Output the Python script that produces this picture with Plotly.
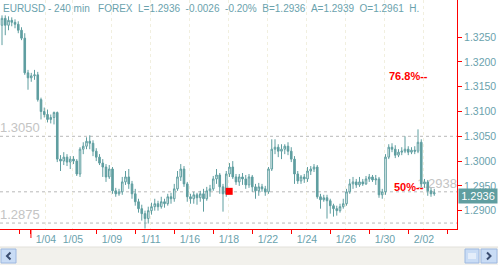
import plotly.graph_objects as go

# ---------------- data ----------------
opens = [1.3274, 1.3288, 1.3274, 1.3284, 1.3280, 1.3276, 1.3264, 1.3248, 1.3178, 1.3168,
         1.3172, 1.3174, 1.3124, 1.3100, 1.3094, 1.3084, 1.3088, 1.3098, 1.3004, 1.3000,
         1.3008, 1.2998, 1.3004, 1.3000, 1.2974, 1.3024, 1.3030, 1.3040, 1.3036, 1.3020,
         1.3008, 1.2996, 1.2988, 1.2968, 1.2984, 1.2940, 1.2934, 1.2938, 1.2958, 1.2968,
         1.2954, 1.2934, 1.2918, 1.2904, 1.2894, 1.2884, 1.2900, 1.2908, 1.2914, 1.2908,
         1.2918, 1.2914, 1.2928, 1.2924, 1.2944, 1.2968, 1.2984, 1.2954, 1.2928, 1.2924,
         1.2932, 1.2926, 1.2934, 1.2924, 1.2940, 1.2944, 1.2964, 1.2972, 1.2948, 1.2934,
         1.2974, 1.2988, 1.2968, 1.2958, 1.2968, 1.2964, 1.2952, 1.2968, 1.2948, 1.2940,
         1.2948, 1.2944, 1.2938, 1.2984, 1.3024, 1.3028, 1.3020, 1.3024, 1.3030, 1.3020,
         1.3004, 1.2974, 1.2960, 1.2968, 1.2964, 1.2980, 1.2984, 1.2988, 1.2928, 1.2922,
         1.2926, 1.2920, 1.2910, 1.2904, 1.2900, 1.2908, 1.2914, 1.2938, 1.2954, 1.2958,
         1.2952, 1.2958, 1.2954, 1.2964, 1.2968, 1.2962, 1.2964, 1.2932, 1.2938, 1.3008,
         1.3028, 1.3024, 1.3012, 1.3018, 1.3020, 1.3024, 1.3018, 1.3022, 1.3020, 1.3038,
         1.2954, 1.2958, 1.2940, 1.2934]
highs = [1.3294, 1.3294, 1.3292, 1.3290, 1.3286, 1.3282, 1.3270, 1.3258, 1.3184, 1.3178,
         1.3184, 1.3180, 1.3128, 1.3108, 1.3104, 1.3094, 1.3100, 1.3100, 1.3012, 1.3018,
         1.3014, 1.3010, 1.3010, 1.3004, 1.3028, 1.3038, 1.3048, 1.3052, 1.3042, 1.3026,
         1.3014, 1.3004, 1.2994, 1.2992, 1.2988, 1.2946, 1.2944, 1.2968, 1.2980, 1.2984,
         1.2960, 1.2944, 1.2924, 1.2912, 1.2900, 1.2908, 1.2916, 1.2924, 1.2920, 1.2928,
         1.2924, 1.2934, 1.2936, 1.2954, 1.2980, 1.2994, 1.2990, 1.2958, 1.2934, 1.2938,
         1.2936, 1.2940, 1.2944, 1.2948, 1.2952, 1.2970, 1.2984, 1.2976, 1.2954, 1.2980,
         1.2996, 1.3000, 1.2974, 1.2974, 1.2976, 1.2972, 1.2974, 1.2972, 1.2954, 1.2956,
         1.2954, 1.2950, 1.2988, 1.3044, 1.3044, 1.3034, 1.3034, 1.3034, 1.3038, 1.3028,
         1.3010, 1.2980, 1.2972, 1.2974, 1.2988, 1.2990, 1.2994, 1.2992, 1.2934, 1.2932,
         1.2932, 1.2924, 1.2914, 1.2910, 1.2914, 1.2924, 1.2944, 1.2964, 1.2968, 1.2964,
         1.2968, 1.2964, 1.2970, 1.2974, 1.2972, 1.2972, 1.2968, 1.2944, 1.3014, 1.3034,
         1.3036, 1.3032, 1.3024, 1.3028, 1.3050, 1.3030, 1.3028, 1.3030, 1.3064, 1.3044,
         1.2964, 1.2962, 1.2946, 1.2944]
lows = [1.3234, 1.3254, 1.3264, 1.3272, 1.3268, 1.3258, 1.3244, 1.3174, 1.3144, 1.3160,
        1.3164, 1.3120, 1.3084, 1.3088, 1.3078, 1.3076, 1.3074, 1.2998, 1.2980, 1.2992,
        1.2990, 1.2984, 1.2994, 1.2970, 1.2968, 1.3014, 1.3024, 1.3024, 1.3010, 1.3000,
        1.2992, 1.2968, 1.2958, 1.2964, 1.2934, 1.2928, 1.2930, 1.2932, 1.2952, 1.2944,
        1.2924, 1.2910, 1.2896, 1.2880, 1.2864, 1.2874, 1.2892, 1.2900, 1.2900, 1.2904,
        1.2906, 1.2910, 1.2914, 1.2918, 1.2940, 1.2960, 1.2948, 1.2918, 1.2914, 1.2914,
        1.2912, 1.2918, 1.2898, 1.2920, 1.2928, 1.2940, 1.2954, 1.2934, 1.2898, 1.2928,
        1.2968, 1.2964, 1.2952, 1.2950, 1.2952, 1.2944, 1.2946, 1.2938, 1.2924, 1.2930,
        1.2938, 1.2930, 1.2934, 1.2980, 1.3014, 1.3008, 1.3004, 1.3014, 1.3012, 1.2998,
        1.2954, 1.2954, 1.2954, 1.2956, 1.2958, 1.2972, 1.2978, 1.2924, 1.2904, 1.2918,
        1.2884, 1.2894, 1.2888, 1.2890, 1.2896, 1.2904, 1.2910, 1.2934, 1.2944, 1.2946,
        1.2948, 1.2950, 1.2952, 1.2958, 1.2958, 1.2952, 1.2926, 1.2924, 1.2932, 1.3004,
        1.3018, 1.3006, 1.3008, 1.3012, 1.3016, 1.3012, 1.3014, 1.3014, 1.3016, 1.2948,
        1.2946, 1.2930, 1.2928, 1.2930]
closes = [1.3288, 1.3274, 1.3284, 1.3280, 1.3276, 1.3264, 1.3248, 1.3178, 1.3168, 1.3172,
          1.3174, 1.3124, 1.3100, 1.3094, 1.3084, 1.3088, 1.3098, 1.3004, 1.3000, 1.3008,
          1.2998, 1.3004, 1.3000, 1.2974, 1.3024, 1.3030, 1.3040, 1.3036, 1.3020, 1.3008,
          1.2996, 1.2988, 1.2968, 1.2984, 1.2940, 1.2934, 1.2938, 1.2958, 1.2968, 1.2954,
          1.2934, 1.2918, 1.2904, 1.2894, 1.2884, 1.2900, 1.2908, 1.2914, 1.2908, 1.2918,
          1.2914, 1.2928, 1.2924, 1.2944, 1.2968, 1.2984, 1.2954, 1.2928, 1.2924, 1.2932,
          1.2926, 1.2934, 1.2924, 1.2940, 1.2944, 1.2964, 1.2972, 1.2948, 1.2934, 1.2974,
          1.2988, 1.2968, 1.2958, 1.2968, 1.2964, 1.2952, 1.2968, 1.2948, 1.2940, 1.2948,
          1.2944, 1.2938, 1.2984, 1.3024, 1.3028, 1.3020, 1.3024, 1.3030, 1.3020, 1.3004,
          1.2974, 1.2960, 1.2968, 1.2964, 1.2980, 1.2984, 1.2988, 1.2928, 1.2922, 1.2926,
          1.2920, 1.2910, 1.2904, 1.2900, 1.2908, 1.2914, 1.2938, 1.2954, 1.2958, 1.2952,
          1.2958, 1.2954, 1.2964, 1.2968, 1.2962, 1.2964, 1.2932, 1.2938, 1.3008, 1.3028,
          1.3024, 1.3012, 1.3018, 1.3020, 1.3024, 1.3018, 1.3022, 1.3020, 1.3038, 1.2954,
          1.2958, 1.2940, 1.2934, 1.2936]
bar_index = list(range(len(opens)))

date_labels = ["1/04", "1/05", "1/09", "1/11", "1/16", "1/18", "1/22", "1/24", "1/26", "1/30", "2/02"]
date_label_pos = [13.5, 21.8, 33.8, 45.8, 57.8, 69.8, 81.8, 93.8, 105.8, 117.8, 129.8]
date_tick_pos = [5.5, 8.9, 29.2, 41.2, 53.2, 65.2, 77.2, 89.2, 101.2, 113.2, 125.2, 137.2]
price_ticks = [1.2900, 1.2950, 1.3000, 1.3050, 1.3100, 1.3150, 1.3200, 1.3250]

level_values = [1.3050, 1.2938, 1.2875]
level_labels = ["1.3050", "1.2938", "1.2875"]
level_label_side = ["start", "end", "start"]

fib_labels = ["76.8%--", "50%--"]
fib_prices = [1.3172, 1.2947]
fib_x = [118.5, 120.0]

marker_x = [69.9]
marker_y = [1.2939]

last_price = 1.2936
header = "EURUSD - 240 min   FOREX  L=1.2936  -0.0026  -0.20%  B=1.2936  A=1.2939  O=1.2961  H."

# ---------------- styles ----------------
TEAL = "#5F9EA0"
TXT = "#6aa2ad"
RED = "#ff0000"
W, H = 498, 265
ML, MR, MT, MB = 0, 41, 0, 36
PW, PH = W - ML - MR, H - MT - MB


def px(x):
    return (x - ML) / PW


def py(y):
    return (PH + MT - y) / PH


fig = go.Figure()

fig.add_trace(go.Candlestick(
    x=bar_index, open=opens, high=highs, low=lows, close=closes,
    increasing=dict(line=dict(color=TEAL, width=1), fillcolor="#ffffff"),
    decreasing=dict(line=dict(color=TEAL, width=1), fillcolor=TEAL),
    whiskerwidth=0, hoverinfo="skip", showlegend=False,
))

fig.add_trace(go.Scatter(
    x=marker_x, y=marker_y, mode="markers",
    marker=dict(symbol="square", size=7, color=RED, line=dict(width=0)),
    hoverinfo="skip", showlegend=False,
))

shapes = []
for v, lab, side in zip(level_values, level_labels, level_label_side):
    shapes.append(dict(
        type="line", xref="paper", yref="y", x0=0, x1=1, y0=v, y1=v,
        line=dict(color="#b8b8b8", width=1, dash="3px,3px"), layer="below",
        label=dict(text=lab, textposition=side, yanchor="bottom",
                   font=dict(size=13, color="#c4c4c4", family="Arial, Liberation Sans"),
                   padding=2),
    ))

# scrollbar decoration
shapes.append(dict(type="rect", xref="paper", yref="paper", x0=px(0), x1=px(W), y0=py(H), y1=py(247),
                   fillcolor="#f2f1ec", line=dict(width=0), layer="above"))
shapes.append(dict(type="line", xref="paper", yref="paper", x0=px(0), x1=px(W), y0=py(247), y1=py(247),
                   line=dict(color="#e2e1da", width=1)))
for bx0, bx1 in [(1, 16), (465, 479), (481, 497)]:
    shapes.append(dict(type="rect", xref="paper", yref="paper", x0=px(bx0), x1=px(bx1),
                       y0=py(263), y1=py(249), fillcolor="#c9dcf5", line=dict(color="#9db8e0", width=1)))
shapes.append(dict(type="path", xref="paper", yref="paper",
                   path=f"M{px(10.5)},{py(252.5)} L{px(7)},{py(256)} L{px(10.5)},{py(259.5)}",
                   line=dict(color="#3a4d70", width=2)))
shapes.append(dict(type="path", xref="paper", yref="paper",
                   path=f"M{px(487)},{py(252.5)} L{px(490.5)},{py(256)} L{px(487)},{py(259.5)}",
                   line=dict(color="#3a4d70", width=2)))
grip = " ".join(f"M{px(gx)},{py(253)} L{px(gx)},{py(259)}" for gx in (469, 471, 473, 475))
shapes.append(dict(type="path", xref="paper", yref="paper", path=grip,
                   line=dict(color="#ffffff", width=1)))
# long tick on the date axis
shapes.append(dict(type="line", xref="x", yref="paper", x0=date_tick_pos[1], x1=date_tick_pos[1],
                   y0=0, y1=py(PH + 9), line=dict(color=RED, width=1)))

annotations = [
    dict(text=header.replace(" ", "\u00a0"), xref="paper", yref="paper", x=px(1), y=1,
         xanchor="left", yanchor="top", showarrow=False, yshift=-1,
         font=dict(size=10, color=TXT, family="Arial, Liberation Sans")),
    dict(text=f"{last_price:.4f}", xref="paper", yref="y", x=1, y=last_price,
         xanchor="left", yanchor="middle", showarrow=False, xshift=1, yshift=-3,
         bgcolor=TEAL, width=38, height=14, borderpad=0,
         font=dict(size=11, color="#ffffff", family="Arial, Liberation Sans")),
]
for lab, p, xx in zip(fib_labels, fib_prices, fib_x):
    annotations.append(dict(text=f"<b>{lab}</b>", xref="x", yref="y", x=xx, y=p,
                            xanchor="left", yanchor="middle", showarrow=False,
                            font=dict(size=11, color=RED, family="Arial, Liberation Sans")))

fig.update_layout(
    width=W, height=H,
    margin=dict(l=ML, r=MR, t=MT, b=MB),
    paper_bgcolor="#ffffff", plot_bgcolor="#ffffff",
    shapes=shapes, annotations=annotations,
    xaxis=dict(
        range=[-0.62, 140.0], rangeslider=dict(visible=False),
        tickmode="array", tickvals=date_label_pos, ticktext=date_labels,
        ticks="", showline=True, linecolor=RED, linewidth=1,
        showgrid=True, gridcolor="#f1efdf", griddash="dot", gridwidth=1,
        tickfont=dict(size=10.5, color=TXT, family="Arial, Liberation Sans"),
        minor=dict(tickmode="array", tickvals=date_tick_pos, ticks="outside", ticklen=4,
                   tickcolor=RED, tickwidth=1, showgrid=False),
        zeroline=False, fixedrange=True,
    ),
    yaxis=dict(
        side="right", range=[1.2863, 1.3325],
        tickmode="array", tickvals=price_ticks, ticktext=[f"{v:.4f}" for v in price_ticks],
        ticks="outside", ticklen=4, tickcolor=RED, tickwidth=1,
        showline=True, linecolor=RED, linewidth=1, showgrid=False, zeroline=False,
        tickfont=dict(size=10.5, color=TXT, family="Arial, Liberation Sans"),
        fixedrange=True,
    ),
    showlegend=False,
)

fig.write_html("out.html")
